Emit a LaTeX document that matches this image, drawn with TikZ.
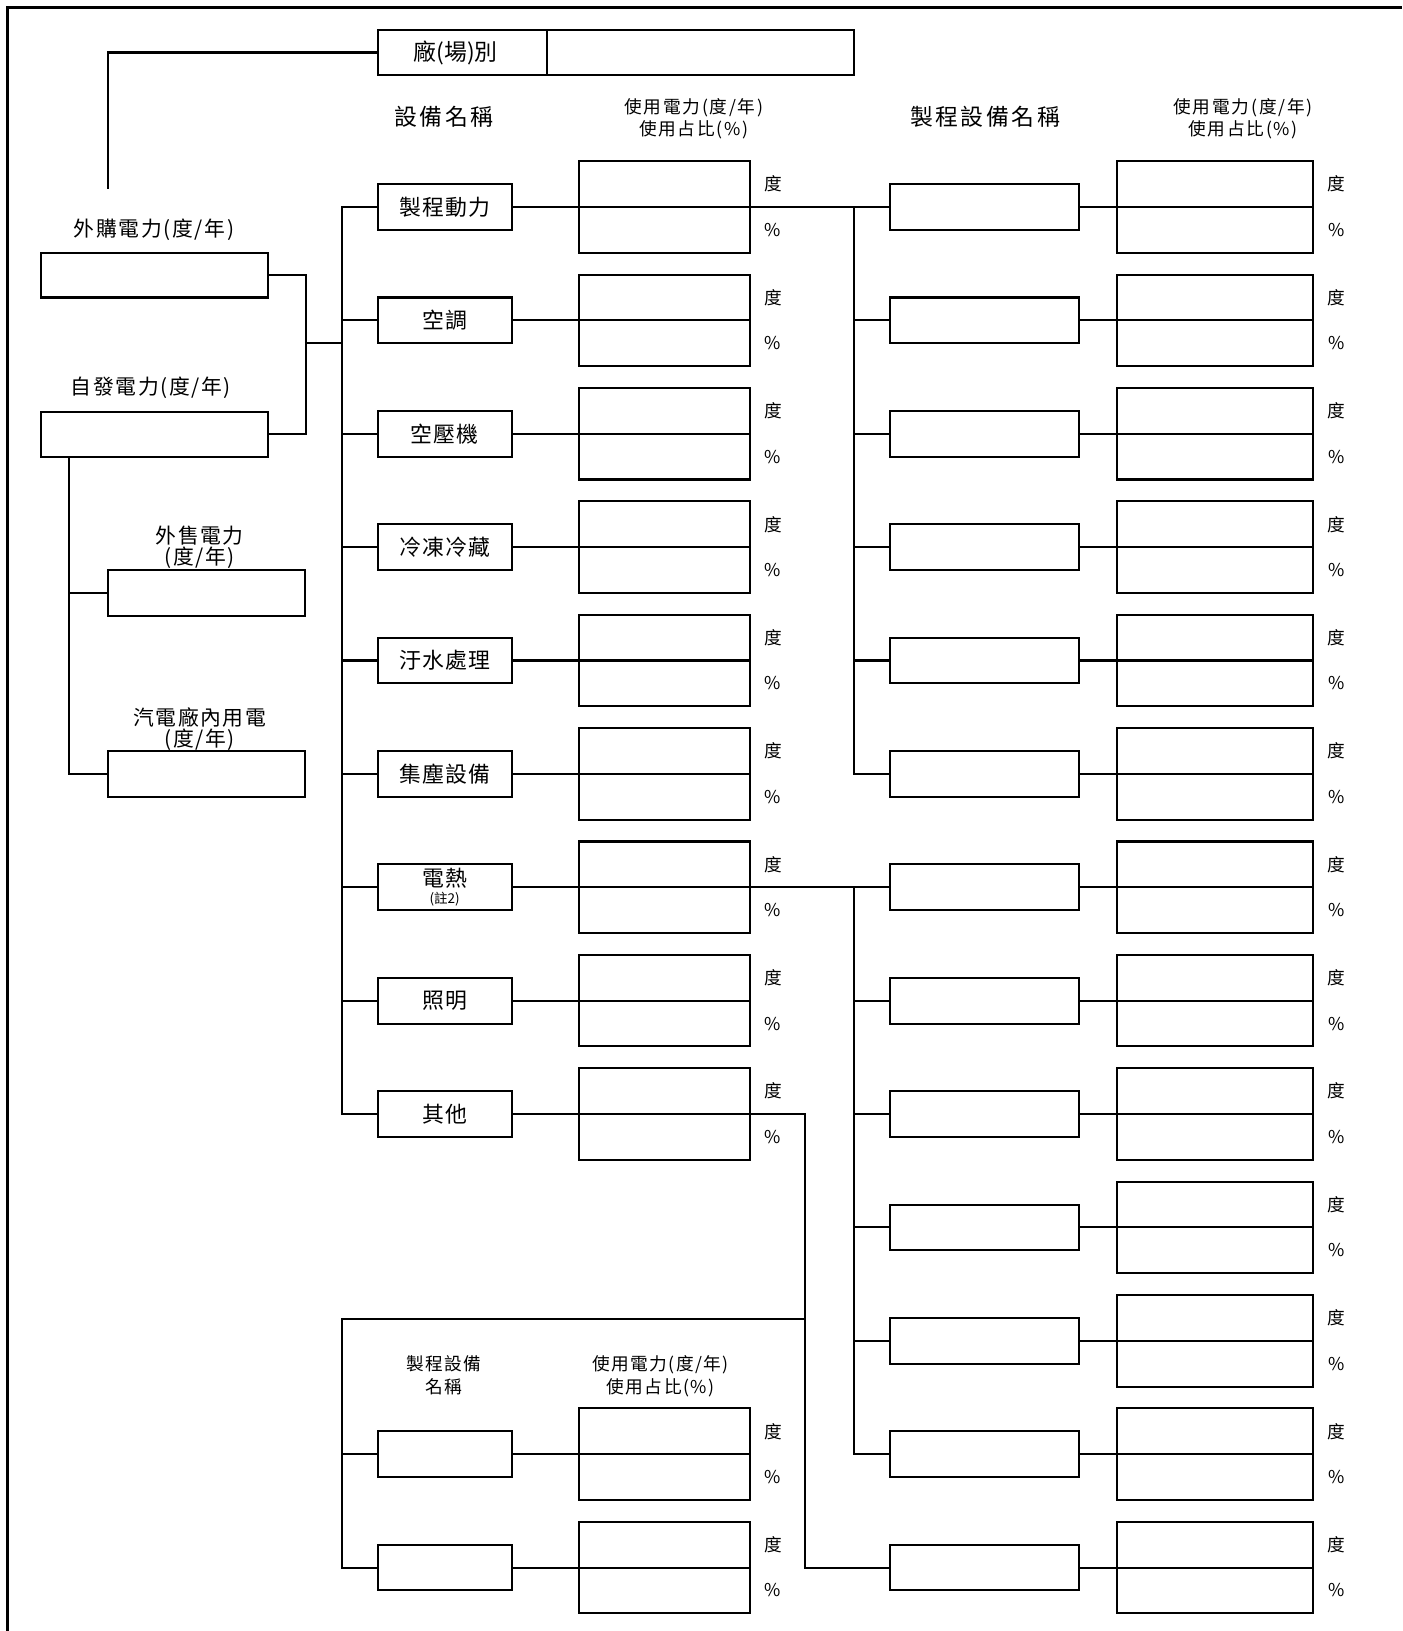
\documentclass[tikz,border=0pt]{standalone}
\usepackage{fontspec}
\setmainfont{Noto Sans CJK TC}
\newfontfamily\cjkPl{Noto Sans CJK TC}
\newfontfamily\cjkHd[LetterSpace=11]{Noto Sans CJK TC}
\newfontfamily\cjkEq[LetterSpace=5]{Noto Sans CJK TC}
\newfontfamily\cjkSm[LetterSpace=10]{Noto Sans CJK TC}
\newfontfamily\cjkLf[LetterSpace=8]{Noto Sans CJK TC}
\begin{document}
\begin{tikzpicture}[x=0.5pt,y=-0.5pt,
  bx/.style={draw, line width=1pt, inner sep=0pt},
  eqbox/.style={bx, minimum width=64.5pt, minimum height=22pt, font=\fontsize{10.5}{11}\selectfont\cjkEq, align=center},
  valbox/.style={bx, minimum width=82pt, minimum height=44pt},
  procbox/.style={bx, minimum width=90.5pt, minimum height=22pt},
  rvalbox/.style={bx, minimum width=94pt, minimum height=44pt},
  srcbox/.style={bx, minimum width=109.5pt, minimum height=21.5pt},
  salebox/.style={bx, minimum width=94.5pt, minimum height=22pt},
  ln/.style={line width=1pt},
  unitlbl/.style={font=\fontsize{8.5}{9}\selectfont\cjkPl, inner sep=0pt},
  hd/.style={font=\fontsize{11}{12}\selectfont\cjkHd, inner sep=0pt},
  hs/.style={font=\fontsize{8.5}{10.5}\selectfont\cjkSm, inner sep=0pt, align=center},
  hs2/.style={font=\fontsize{8.5}{11}\selectfont\cjkLf, inner sep=0pt, align=center},
  lt/.style={font=\fontsize{10}{10}\selectfont\cjkLf, inner sep=0pt, align=center}
]
\useasboundingbox (0,0) rectangle (1348,1568);
% outer frame
\draw[line width=1.5pt] (7.2,1568) -- (7.2,7.2) -- (1348,7.2);

% factory
\node[bx, minimum width=229pt, minimum height=21.5pt] (fac) at (592,50.5) {};
\coordinate (fdiv) at (526,50.5);
\draw[ln] (fdiv |- fac.north) -- (fdiv |- fac.south);
\node[font=\fontsize{11}{12}\selectfont\cjkPl, inner sep=0pt] (factxt) at (438,50.5) {廠(場)別};
\coordinate (ft) at (104,182);
\draw[ln] (fac.west) -| (ft);

% headers
\node[hd] (h1) at (427,112) {設備名稱};
\node[hs] (h2) at (667,114) {使用電力(度/年)\\使用占比(\%)};
\node[hd] (h3) at (947,112) {製程設備名稱};
\node[hs] (h4) at (1195,114) {使用電力(度/年)\\使用占比(\%)};

% sources
\node[lt] (tbuy) at (148,221) {外購電力(度/年)};
\node[srcbox] (buy) at (148.5,264.5) {};
\node[lt] (tself) at (145,373) {自發電力(度/年)};
\node[srcbox] (self) at (148.5,417.5) {};
\node[lt] (tsale) at (192,526) {外售電力\\(度/年)};
\node[salebox] (sale) at (198.5,570) {};
\node[lt] (tplant) at (192,701) {汽電廠內用電\\(度/年)};
\node[salebox] (plant) at (198.5,744) {};

\draw[ln] (buy.east) -- ++(35,0) |- (self.east);
\coordinate (sd) at ([xshift=14pt]self.south west);
\draw[ln] (sd) |- (plant.west);
\draw[ln] (sd |- sale.west) -- (sale.west);

% equipment rows
\foreach \k/\t in {0/製程動力,1/空調,2/空壓機,3/冷凍冷藏,4/汙水處理,5/集塵設備,6/{電熱\\[-3pt]{\fontsize{6.5}{7}\selectfont\cjkPl(註2)}},7/照明,8/其他} {
  \pgfmathsetmacro\yy{199+109*\k}
  \node[eqbox] (eq\k) at (427.5,\yy) {\t};
  \node[valbox] (v\k) at (639,\yy) {};
  \draw[ln] (v\k.west) -- (v\k.east);
  \node[unitlbl] (vd\k) at (743,\yy-22) {度};
  \node[unitlbl] (vp\k) at (743,\yy+22) {\%};
  \draw[ln] (eq\k.east) -- (v\k.west);
}

% main bus
\coordinate (bM) at (329,199);
\draw[ln] (eq0.west) -- (bM) -- (bM |- eq8.west) -- (eq8.west);
\foreach \k in {1,...,7} { \draw[ln] (bM |- eq\k.west) -- (eq\k.west); }
\coordinate (jn) at (293,330);
\draw[ln] (jn) -- (jn -| bM);

% process equipment rows (right)
\foreach \k in {0,...,12} {
  \pgfmathsetmacro\yy{199+109*\k}
  \node[procbox] (p\k) at (946.5,\yy) {};
  \node[rvalbox] (w\k) at (1168,\yy) {};
  \draw[ln] (w\k.west) -- (w\k.east);
  \node[unitlbl] (wd\k) at (1285,\yy-22) {度};
  \node[unitlbl] (wp\k) at (1285,\yy+22) {\%};
  \draw[ln] (p\k.east) -- (w\k.west);
}

% bus A (製程動力)
\coordinate (bA) at (821,199);
\draw[ln] (v0.east) -- (p0.west);
\draw[ln] (bA) -- (bA |- p5.west) -- (p5.west);
\foreach \k in {1,...,4} { \draw[ln] (bA |- p\k.west) -- (p\k.west); }

% bus B (電熱)
\coordinate (bB) at (821,853);
\draw[ln] (v6.east) -- (p6.west);
\draw[ln] (bB) -- (bB |- p11.west) -- (p11.west);
\foreach \k in {7,...,10} { \draw[ln] (bB |- p\k.west) -- (p\k.west); }

% sub group (其他)
\node[hs2] (h5) at (427,1322) {製程設備\\名稱};
\node[hs2] (h6) at (635,1323) {使用電力(度/年)\\使用占比(\%)};
\foreach \k in {0,1} {
  \pgfmathsetmacro\yy{1398+109*\k}
  \node[eqbox] (s\k) at (427.5,\yy) {};
  \node[valbox] (sv\k) at (639,\yy) {};
  \draw[ln] (sv\k.west) -- (sv\k.east);
  \node[unitlbl] (sd\k) at (743,\yy-22) {度};
  \node[unitlbl] (sp\k) at (743,\yy+22) {\%};
  \draw[ln] (s\k.east) -- (sv\k.west);
}
\coordinate (bC) at (774,1071);
\draw[ln] (v8.east) -- (bC) -- (bC |- p12.west) -- (p12.west);
\coordinate (bD) at (774,1268);
\coordinate (bE) at (329,1268);
\draw[ln] (bD) -- (bE) -- (bE |- s1.west) -- (s1.west);
\draw[ln] (bE |- s0.west) -- (s0.west);
\end{tikzpicture}
\end{document}
